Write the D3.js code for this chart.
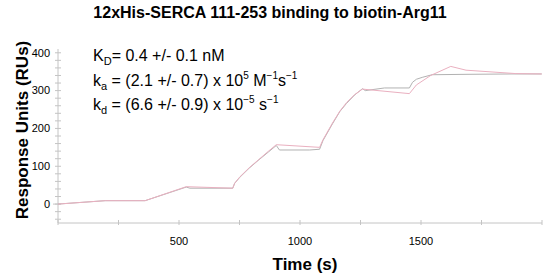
<!DOCTYPE html>
<html>
<head>
<meta charset="utf-8">
<script src="https://cdn.jsdelivr.net/npm/d3@7"></script>
<style>
  body { margin: 0; background: #fff; }
  text { font-family: "Liberation Sans", Arial, sans-serif; }
</style>
</head>
<body>
<svg id="chart" width="550" height="278"></svg>
<script>
// sensorgram: measured response (grey) and global fit (pink)
const measured = [
    [0, 0], [20, 1], [195, 9], [360, 9], [530, 45], [545, 42], [722, 42],
    [730, 55], [750, 70], [790, 95], [830, 117], [870, 138], [902, 155],
    [915, 143], [1040, 143], [1081, 145], [1095, 168], [1134, 212],
    [1165, 245], [1192, 266], [1225, 288], [1258, 305], [1270, 300],
    [1349, 307], [1452, 307], [1465, 322], [1481, 330], [1505, 335],
    [1546, 342], [1686, 343], [1876, 344], [1999, 344]
];
const fitted = [
    [0, 0], [195, 9], [360, 9], [530, 46], [722, 42], [730, 55], [750, 71],
    [790, 96], [830, 118], [870, 140], [902, 157], [1081, 150], [1095, 170],
    [1134, 214], [1165, 246], [1192, 268], [1225, 289], [1258, 304],
    [1452, 292], [1481, 315], [1540, 340], [1623, 364], [1686, 354],
    [1892, 345], [1999, 344]
];
const xTicks = [500, 1000, 1500];
const xMinor = [0, 250, 500, 750, 1000, 1250, 1500, 1750, 2000];
const yTicks = [0, 100, 200, 300, 400];
const yMinor = d3.range(-40, 401, 20);

const svg = d3.select("#chart");
const margin = { top: 49, right: 8, bottom: 55, left: 58 };
const width = +svg.attr("width");
const height = +svg.attr("height");
const innerW = width - margin.left - margin.right;
const innerH = height - margin.top - margin.bottom;

const g = svg.append("g").attr("transform", `translate(${margin.left},${margin.top})`);

const x = d3.scaleLinear().domain([0, 2000]).range([0, innerW]);
const y = d3.scaleLinear().domain([-50, 410]).range([innerH, 0]);

const axisColor = "#c4c4c4";

// x axis
const xg = g.append("g").attr("transform", `translate(0,${innerH})`);
xg.append("line").attr("x1", 0).attr("x2", innerW).attr("stroke", axisColor);
xg.selectAll("line.tick").data(xMinor).join("line")
    .attr("class", "tick")
    .attr("x1", d => x(d)).attr("x2", d => x(d))
    .attr("y1", -3).attr("y2", 2)
    .attr("stroke", axisColor);
xg.selectAll("text").data(xTicks).join("text")
    .attr("x", d => x(d))
    .attr("y", 22)
    .attr("text-anchor", "middle")
    .style("font-size", "11px")
    .text(d => d);

// y axis
const yg = g.append("g");
yg.append("line").attr("y1", 0).attr("y2", innerH).attr("stroke", axisColor);
yg.selectAll("line.tick").data(yMinor).join("line")
    .attr("class", "tick")
    .attr("x1", -3).attr("x2", 3)
    .attr("y1", d => y(d)).attr("y2", d => y(d))
    .attr("stroke", axisColor);
yg.selectAll("line.zero").data([0]).join("line")
    .attr("class", "zero")
    .attr("x1", -5).attr("x2", 0)
    .attr("y1", d => y(d)).attr("y2", d => y(d))
    .attr("stroke", axisColor);
yg.selectAll("text").data(yTicks).join("text")
    .attr("x", -8)
    .attr("y", d => y(d))
    .attr("dy", "0.35em")
    .attr("text-anchor", "end")
    .style("font-size", "11px")
    .text(d => d);

// lines
const line = d3.line().x(d => x(d[0])).y(d => y(d[1]));

g.append("path")
    .datum(measured)
    .attr("fill", "none")
    .attr("stroke", "#b2b2b2")
    .attr("stroke-width", 1)
    .attr("d", line);

g.append("path")
    .datum(fitted)
    .attr("fill", "none")
    .attr("stroke", "#eab0c0")
    .attr("stroke-width", 1)
    .attr("d", line);

// titles
svg.append("text")
    .attr("x", 270)
    .attr("y", 18)
    .attr("text-anchor", "middle")
    .style("font-size", "16px")
    .style("font-weight", "bold")
    .text("12xHis-SERCA 111-253 binding to biotin-Arg11");

svg.append("text")
    .attr("transform", "rotate(-90)")
    .attr("x", -130)
    .attr("y", 28)
    .attr("text-anchor", "middle")
    .style("font-size", "17px")
    .style("font-weight", "bold")
    .text("Response Units (RUs)");

svg.append("text")
    .attr("x", 305)
    .attr("y", 270)
    .attr("text-anchor", "middle")
    .style("font-size", "17px")
    .style("font-weight", "bold")
    .text("Time (s)");

// kinetic constants
const ann = svg.append("g").attr("transform", "translate(93,0)").style("font-size", "16px");

const l1 = ann.append("text").attr("y", 61);
l1.append("tspan").text("K");
l1.append("tspan").attr("dy", 4).style("font-size", "11px").text("D");
l1.append("tspan").attr("dy", -4).text("= 0.4 +/- 0.1 nM");

const l2 = ann.append("text").attr("y", 86);
l2.append("tspan").text("k");
l2.append("tspan").attr("dy", 4).style("font-size", "11px").text("a");
l2.append("tspan").attr("dy", -4).text(" = (2.1 +/- 0.7) x 10");
l2.append("tspan").attr("dy", -7).style("font-size", "10px").text("5");
l2.append("tspan").attr("dy", 7).text(" M");
l2.append("tspan").attr("dy", -7).style("font-size", "10px").text("\u22121");
l2.append("tspan").attr("dy", 7).text("s");
l2.append("tspan").attr("dy", -7).style("font-size", "10px").text("\u22121");

const l3 = ann.append("text").attr("y", 110);
l3.append("tspan").text("k");
l3.append("tspan").attr("dy", 4).style("font-size", "11px").text("d");
l3.append("tspan").attr("dy", -4).text(" = (6.6 +/- 0.9) x 10");
l3.append("tspan").attr("dy", -7).style("font-size", "10px").text("\u22125");
l3.append("tspan").attr("dy", 7).text(" s");
l3.append("tspan").attr("dy", -7).style("font-size", "10px").text("\u22121");
</script>
</body>
</html>
